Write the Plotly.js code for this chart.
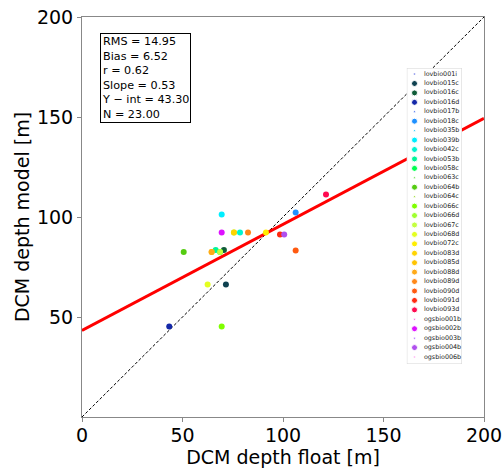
<!DOCTYPE html>
<html>
<head>
<meta charset="utf-8">
<script src="https://cdn.plot.ly/plotly-3.0.1.min.js"></script>
<style>html,body{margin:0;padding:0;background:#fff;}#chart{width:503px;height:468px;}</style>
</head>
<body>
<div id="chart"></div>
<script>
// Float names (legend order)
var floatNames = ['lovbio001i','lovbio015c','lovbio016c','lovbio016d','lovbio017b','lovbio018c','lovbio035b','lovbio039b','lovbio042c','lovbio053b','lovbio058c','lovbio063c','lovbio064b','lovbio064c','lovbio066c','lovbio066d','lovbio067c','lovbio068d','lovbio072c','lovbio083d','lovbio085d','lovbio088d','lovbio089d','lovbio090d','lovbio091d','lovbio093d','ogsbio001b','ogsbio002b','ogsbio003b','ogsbio004b','ogsbio006b'];
var floatColors = ['#2233dd','#0e4150','#0f5c38','#1428a8','#2255ee','#1e90ff','#22ccff','#00eeff','#00f5d0','#00f59a','#00ff50','#44dd22','#55cc11','#99dd22','#7fff00','#a0ff30','#c4ff40','#e4ff20','#ffee00','#ffd400','#ffc400','#ffaa18','#ff8818','#ff5a10','#ff2a10','#ff0a50','#ff44dd','#dd11ff','#9933ff','#b050ee','#ff77ee'];
var legendSizes = [2,6,6,6,2,6,2,6,6,6,6,2,6,2,6,6,6,6,6,6,6,6,6,6,6,6,2,6,2,6,2];
// DCM depth float [m] and DCM depth model [m] per float (null = no match-up)
var dcmFloat = [null,71.6,70.6,43.4,null,106.3,null,69.5,78.6,66.5,68.7,null,50.6,null,69.5,75.6,68.7,62.5,91.5,75.6,64.5,64.5,82.6,106.3,98.5,121.4,null,69.5,null,100.6,null];
var dcmModel = [null,66.3,83.5,45.2,null,102.3,null,101.3,92.2,83.5,82.5,null,82.5,null,45.2,92.2,82.5,66.3,92.2,92.2,82.5,82.5,92.2,83.3,91.3,111.3,null,92.2,null,91.3,null];
// Statistics
var statLabels = ['RMS','Bias','r','Slope','Y \u2212 int','N'];
var statValues = [14.95,6.52,0.62,0.53,43.30,23.00];
var fitSlope = 0.53, fitIntercept = 43.30;
var axisRange = [0,200];
var xTicks = [0,50,100,150,200];
var yTicks = [50,100,150,200];

var font = 'DejaVu Sans, sans-serif';
var traces = [];

// 1:1 line
traces.push({x: axisRange, y: axisRange, mode: 'lines', type: 'scatter',
  line: {color: '#000', width: 1, dash: '3px,2px'}, showlegend: false, hoverinfo: 'skip'});

// regression line
var fitX = [axisRange[0], axisRange[1]];
var fitY = fitX.map(function(v){ return fitIntercept + fitSlope * v; });
traces.push({x: fitX, y: fitY, mode: 'lines', type: 'scatter',
  line: {color: '#ff0000', width: 3}, showlegend: false, hoverinfo: 'skip'});

// float points
for (var i = 0; i < floatNames.length; i++) {
  if (dcmFloat[i] === null) continue;
  traces.push({x: [dcmFloat[i]], y: [dcmModel[i]], mode: 'markers', type: 'scatter',
    name: floatNames[i], marker: {color: floatColors[i], size: 6, opacity: 1}, showlegend: false});
}

// custom legend (compact) on its own axes
var legTop = -0.64, legBottom = 30.74;
traces.push({x: [0, 1, 1, 0, 0], y: [legTop, legTop, legBottom, legBottom, legTop], xaxis: 'x2', yaxis: 'y2',
  mode: 'lines', type: 'scatter', fill: 'toself', fillcolor: 'rgba(255,255,255,0.8)',
  line: {color: '#d4d4d4', width: 1}, showlegend: false, hoverinfo: 'skip', cliponaxis: false});
var idx = floatNames.map(function(_, k){ return k; });
traces.push({x: idx.map(function(){ return 0.14; }), y: idx, xaxis: 'x2', yaxis: 'y2',
  mode: 'markers', type: 'scatter', marker: {color: floatColors, size: legendSizes, opacity: 1},
  showlegend: false, hoverinfo: 'skip', cliponaxis: false});
traces.push({x: idx.map(function(){ return 0.31; }), y: idx, xaxis: 'x2', yaxis: 'y2',
  mode: 'text', type: 'scatter', text: floatNames, textposition: 'middle right',
  textfont: {family: font, size: 6.4, color: '#222'}, showlegend: false, hoverinfo: 'skip', cliponaxis: false});

var statText = statLabels.map(function(l, k){ return l + ' = ' + statValues[k].toFixed(2); }).join('<br>');

var layout = {
  width: 503, height: 468,
  margin: {l: 82, r: 19, t: 17, b: 51},
  paper_bgcolor: '#fff', plot_bgcolor: '#fff',
  font: {family: font, color: '#000'},
  showlegend: false,
  xaxis: {range: axisRange, tickvals: xTicks, ticks: 'outside', ticklen: 4, tickcolor: '#888',
    showline: true, linecolor: '#888', linewidth: 1, mirror: true, showgrid: false, zeroline: false,
    ticklabelstandoff: -3,
    tickfont: {size: 19, family: font}, title: {text: 'DCM depth float [m]', font: {size: 19, family: font}, standoff: 2}},
  yaxis: {range: axisRange, tickvals: yTicks, ticks: 'outside', ticklen: 4, tickcolor: '#888',
    showline: true, linecolor: '#888', linewidth: 1, mirror: true, showgrid: false, zeroline: false,
    tickfont: {size: 19, family: font}, title: {text: 'DCM depth model [m]', font: {size: 19, family: font}, standoff: 2}},
  xaxis2: {domain: [0.808, 0.945], range: [0, 1], visible: false, fixedrange: true, anchor: 'y2'},
  yaxis2: {domain: [0.1325, 0.8725], range: [legBottom, legTop], visible: false, fixedrange: true, anchor: 'x2'},
  annotations: [{xref: 'paper', yref: 'paper', x: 0.045, y: 0.96, xanchor: 'left', yanchor: 'top',
    text: statText, align: 'left', showarrow: false, font: {size: 11.2, family: font, color: '#000'},
    bordercolor: '#000', borderwidth: 1, borderpad: 1, bgcolor: '#fff'}]
};

Plotly.newPlot('chart', traces, layout, {staticPlot: true, displayModeBar: false});
</script>
</body>
</html>
